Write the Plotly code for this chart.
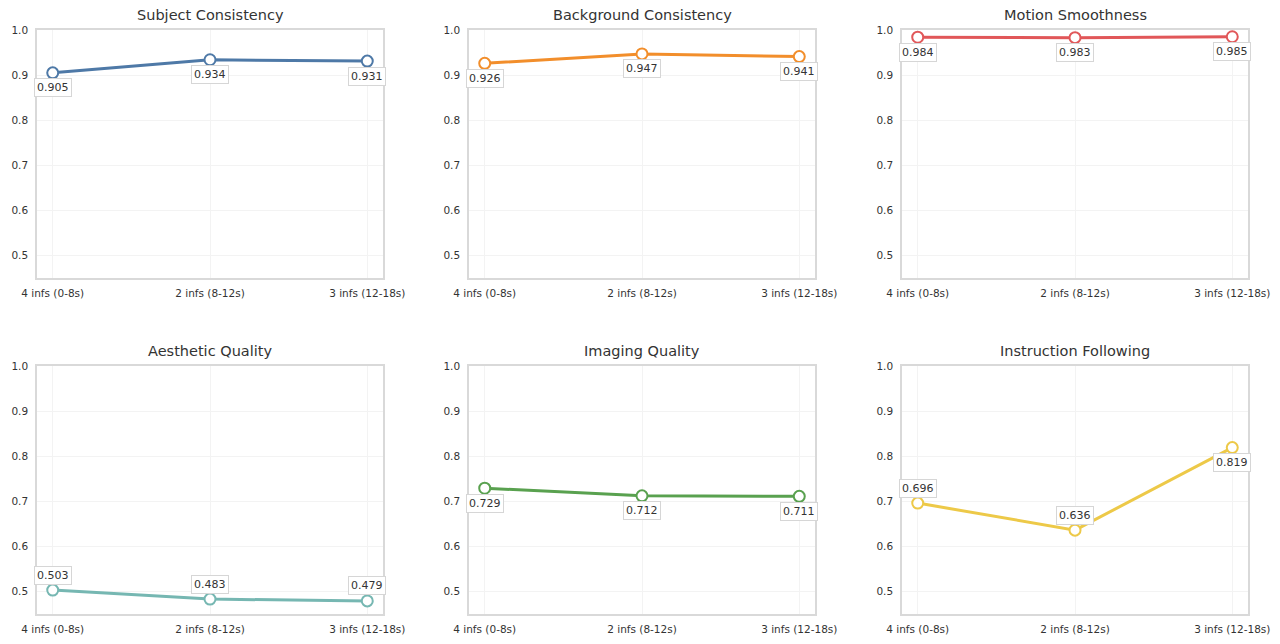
import plotly.graph_objects as go

categories = ["4 infs (0-8s)", "2 infs (8-12s)", "3 infs (12-18s)"]
titles = ["Subject Consistency", "Background Consistency", "Motion Smoothness",
          "Aesthetic Quality", "Imaging Quality", "Instruction Following"]
subject = [0.905, 0.934, 0.931]
background = [0.926, 0.947, 0.941]
motion = [0.984, 0.983, 0.985]
aesthetic = [0.503, 0.483, 0.479]
imaging = [0.729, 0.712, 0.711]
instruction = [0.696, 0.636, 0.819]
series = [subject, background, motion, aesthetic, imaging, instruction]
colors = ["#4e79a7", "#f28e2b", "#e15759", "#76b7b2", "#59a14f", "#edc948"]
# label placement: +1 above, -1 below
label_side = [[-1, -1, -1], [-1, -1, -1], [-1, -1, -1],
              [1, 1, 1], [-1, -1, -1], [1, 1, -1]]
yticks = [0.5, 0.6, 0.7, 0.8, 0.9, 1.0]

W, H = 1280, 644
xdoms = [(37, 383), (469, 815), (902, 1248)]
ydoms = [(30, 278), (366, 614)]

fig = go.Figure()
annotations = []
for i, (vals, col, title) in enumerate(zip(series, colors, titles)):
    r, c = divmod(i, 3)
    n = i + 1
    xa = "x" if n == 1 else f"x{n}"
    ya = "y" if n == 1 else f"y{n}"
    fig.add_trace(go.Scatter(
        x=list(range(len(categories))), y=vals, mode="lines+markers",
        line=dict(color=col, width=3),
        marker=dict(size=11, color="white", line=dict(color=col, width=2)),
        xaxis=xa, yaxis=ya, showlegend=False, hoverinfo="skip"))
    x0, x1 = xdoms[c]
    y0, y1 = ydoms[r]
    fig.layout[f"xaxis{'' if n == 1 else n}"] = dict(
        domain=[x0 / W, x1 / W], anchor=ya, range=[-0.1, 2.1], automargin=False,
        tickmode="array", tickvals=list(range(len(categories))), ticktext=categories,
        tickfont=dict(size=10.5, color="#333333", family="DejaVu Sans"),
        showgrid=True, gridcolor="#f3f3f3", gridwidth=1,
        showline=True, linecolor="#d9d9d9", linewidth=1.5, mirror=True,
        zeroline=False, ticks="outside", ticklen=5, tickcolor="rgba(0,0,0,0)")
    fig.layout[f"yaxis{'' if n == 1 else n}"] = dict(
        domain=[1 - y1 / H, 1 - y0 / H], anchor=xa, range=[0.45, 1.0], automargin=False,
        tickmode="array", tickvals=yticks, ticktext=[f"{v:.1f}" for v in yticks],
        tickfont=dict(size=10.5, color="#333333", family="DejaVu Sans"),
        showgrid=True, gridcolor="#f3f3f3", gridwidth=1,
        showline=True, linecolor="#d9d9d9", linewidth=1.5, mirror=True,
        zeroline=False, ticks="outside", ticklen=5, tickcolor="rgba(0,0,0,0)")
    annotations.append(dict(
        x=(x0 + x1) / 2 / W, y=1 - (y0 - 15) / H, xref="paper", yref="paper",
        text=title, showarrow=False, xanchor="center", yanchor="middle",
        font=dict(size=14.5, color="#333333", family="DejaVu Sans")))
    for j, v in enumerate(vals):
        s = label_side[i][j]
        annotations.append(dict(
            x=j, y=v, xref=xa, yref=ya, text=f"{v:.3f}", showarrow=False,
            yshift=15 * s, xanchor="center", yanchor="middle",
            bgcolor="white", bordercolor="#d6d6d6", borderwidth=1, borderpad=2,
            font=dict(size=11, color="#333333", family="DejaVu Sans")))

fig.update_layout(
    width=W, height=H, margin=dict(l=0, r=0, t=0, b=0, autoexpand=False),
    paper_bgcolor="white", plot_bgcolor="white",
    annotations=annotations, showlegend=False)

fig.write_html("out.html")
